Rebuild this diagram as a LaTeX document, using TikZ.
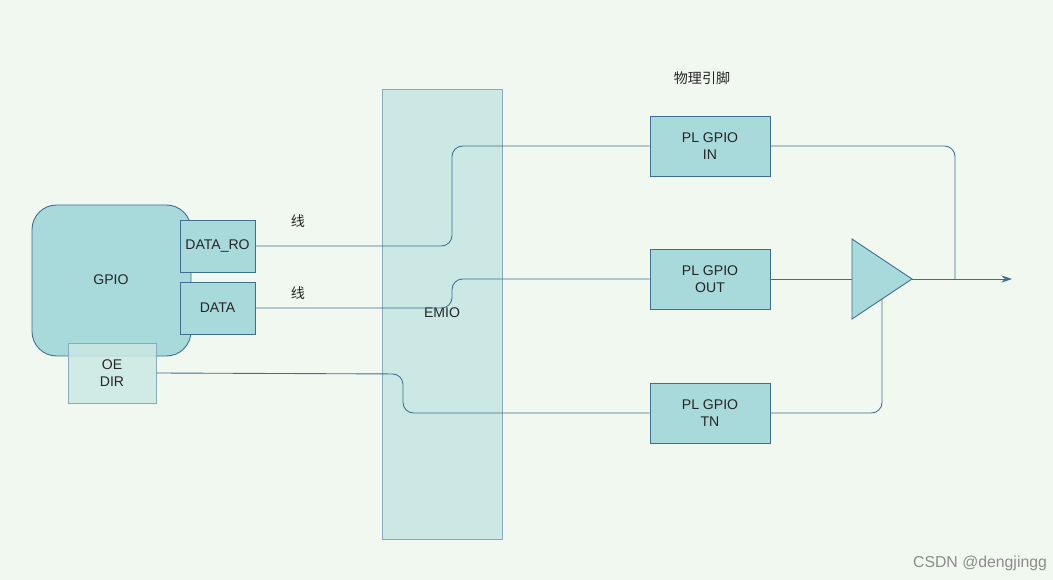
\documentclass[tikz,border=0pt]{standalone}
\usepackage{fontspec}
\setmainfont{Liberation Sans}
\newfontfamily\cjk{Noto Sans CJK SC}
\usetikzlibrary{arrows.meta}
\definecolor{bg}{HTML}{F1F8EF}
\definecolor{bfill}{HTML}{A8D9DB}
\definecolor{bline}{HTML}{3E6F93}
\definecolor{efill}{HTML}{CBE8E4}
\begin{document}
\begin{tikzpicture}[x=0.02cm,y=-0.02cm,
  every node/.style={font=\fontsize{8}{9.5}\selectfont,text=black!85},
  box/.style={draw=bline,fill=bfill,line width=0.5pt},
  wire/.style={draw=bline,line width=0.5pt,rounded corners=6}]
\fill[bg] (0,0) rectangle (1053,580);
\useasboundingbox (0,0) rectangle (1053,580);
\draw[box,rounded corners=14] (32,205) rectangle (191,356);
\node (gpio) at (111,280) {GPIO};
\node[box,minimum width=75*0.02cm,minimum height=52*0.02cm,inner sep=0] (dro) at (217.5,246) {DATA\_RO};
\node[box,minimum width=75*0.02cm,minimum height=52*0.02cm,inner sep=0] (data) at (217.5,308) {DATA};
\node[draw=bline!60,fill=efill,fill opacity=0.85,text opacity=1,line width=0.5pt,minimum width=88*0.02cm,minimum height=60*0.02cm,inner sep=0,align=center] (oe) at (112,373) {OE\\DIR};
\node[draw=bline!60,fill=efill,line width=0.5pt,minimum width=120*0.02cm,minimum height=450*0.02cm,inner sep=0] (emio) at (442,314) {};
\node (emiol) at (442,313) {EMIO};
\node[box,minimum width=120*0.02cm,minimum height=60*0.02cm,inner sep=0,align=center] (in) at (710,146) {PL GPIO\\IN};
\node[box,minimum width=120*0.02cm,minimum height=60*0.02cm,inner sep=0,align=center] (out) at (710,279) {PL GPIO\\OUT};
\node[box,minimum width=120*0.02cm,minimum height=60*0.02cm,inner sep=0,align=center] (tn) at (710,413) {PL GPIO\\TN};
\coordinate (tl) at (852,279);
\coordinate (tt) at (912,279);
\coordinate (tb) at (882,299);
\draw[box] (852,239) -- (912,279) -- (852,319) -- cycle;
\node at (702,78) {\cjk 物理引脚};
\node at (298,221) {\cjk 线};
\node at (298,293) {\cjk 线};
\coordinate (end) at (1012,279);
\draw[wire] (dro.east) -- (452,246) -- (452,146) -- (in.west);
\draw[wire] (in.east) -- (955,146) -- (955,279);
\draw[wire] (data.east) -- (452,308) -- (452,279) -- (out.west);
\draw[wire] (out.east) -- (tl);
\draw[wire,-{Stealth[length=6pt,width=4pt]}] (tt) -- (end);
\draw[wire] (oe.east) -- (403,374) -- (403,413) -- (tn.west);
\draw[wire] (tn.east) -- (882,413) -- (tb);
\node[text=black!45,font=\fontsize{9}{10}\selectfont] (wm) at (980,563) {CSDN @dengjingg};
\end{tikzpicture}
\end{document}
